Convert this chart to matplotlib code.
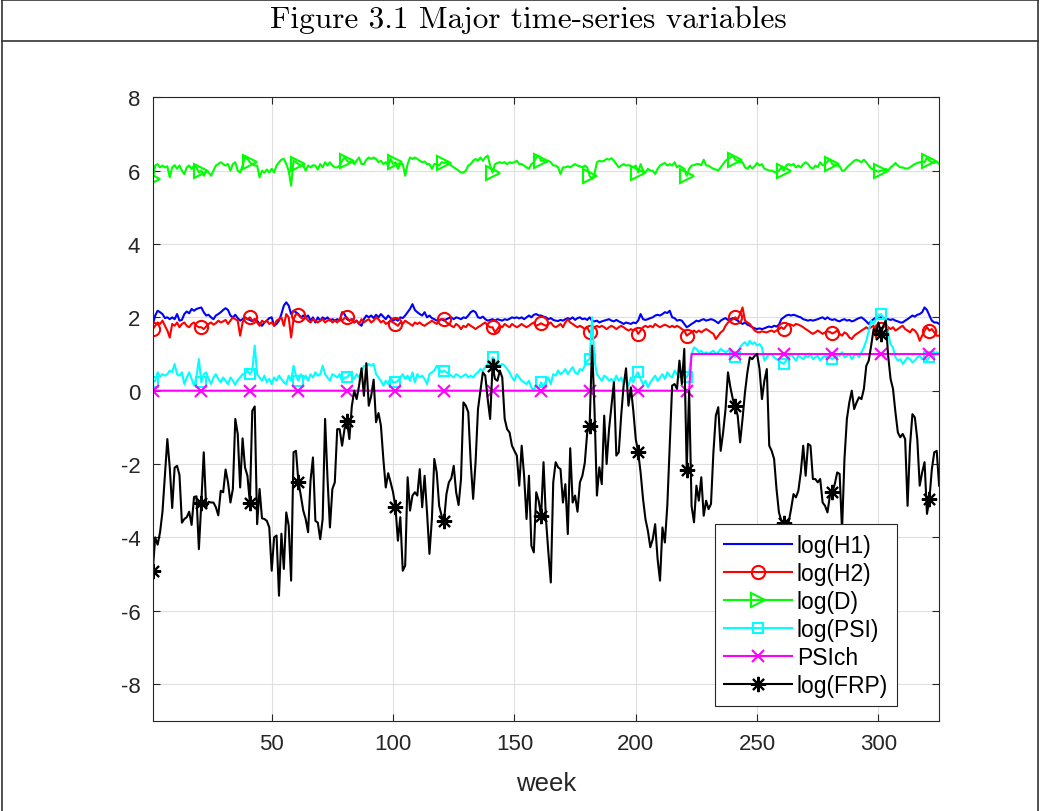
import numpy as np
import matplotlib
matplotlib.use("Agg")
import matplotlib.pyplot as plt
from matplotlib.lines import Line2D

# ===== DATA =====
weeks = np.arange(1, 326)

log_h1 = [
    1.80, 2.05, 2.18, 2.14, 2.09, 1.98, 2.00, 1.95, 2.00, 1.95,
    2.09, 1.91, 1.93, 2.09, 2.16, 2.11, 2.23, 2.18, 2.23, 2.25,
    2.27, 2.14, 2.05, 2.07, 2.00, 1.95, 2.05, 2.09, 2.14, 2.20,
    2.25, 2.20, 2.05, 2.00, 2.07, 1.98, 1.91, 1.95, 2.00, 1.95,
    1.93, 1.89, 1.95, 1.91, 1.82, 1.77, 1.86, 1.91, 1.98, 2.00,
    1.77, 1.82, 1.91, 2.09, 2.32, 2.41, 2.32, 2.09, 2.18, 2.14,
    2.09, 2.00, 2.05, 2.00, 2.05, 1.91, 2.00, 1.86, 2.00, 1.91,
    2.00, 1.95, 2.00, 1.91, 1.95, 1.91, 1.95, 1.91, 2.14, 2.09,
    1.95, 1.91, 1.95, 1.86, 1.91, 1.82, 1.77, 1.95, 2.05, 2.00,
    2.05, 1.98, 2.07, 2.00, 2.09, 2.02, 1.95, 2.05, 1.98, 1.91,
    1.95, 1.91, 2.00, 1.98, 2.05, 2.14, 2.23, 2.36, 2.20, 2.14,
    2.09, 2.05, 2.14, 2.00, 2.05, 1.98, 1.95, 1.91, 1.93, 1.95,
    1.91, 1.95, 1.98, 2.00, 1.95, 2.00, 1.98, 1.95, 2.00, 1.98,
    2.05, 2.14, 2.18, 2.14, 2.00, 1.98, 2.02, 1.95, 1.91, 1.93,
    1.95, 1.91, 1.95, 1.93, 1.91, 1.95, 1.93, 1.96, 2.00, 1.98,
    2.00, 1.97, 2.00, 1.95, 2.00, 2.05, 2.00, 2.07, 2.09, 2.05,
    2.05, 2.02, 2.00, 1.95, 1.98, 1.93, 1.91, 1.90, 1.93, 1.91,
    1.95, 1.98, 1.95, 2.00, 1.93, 1.98, 2.00, 1.95, 1.97, 1.93,
    2.00, 1.91, 1.89, 1.91, 1.86, 1.89, 1.91, 1.93, 1.95, 1.91,
    1.89, 1.93, 1.89, 1.86, 1.82, 1.86, 1.84, 1.82, 1.86, 1.84,
    1.91, 2.09, 1.95, 1.93, 1.95, 1.98, 2.00, 2.05, 2.07, 2.05,
    2.09, 2.14, 2.12, 2.18, 2.00, 1.98, 1.91, 1.93, 1.91, 1.82,
    1.73, 1.77, 1.82, 1.86, 1.91, 1.89, 1.93, 1.95, 1.91, 1.93,
    1.95, 1.93, 1.89, 1.84, 1.91, 1.95, 1.98, 1.93, 1.95, 1.98,
    1.95, 1.91, 1.86, 1.82, 1.86, 1.80, 1.77, 1.73, 1.70, 1.68,
    1.70, 1.68, 1.70, 1.73, 1.75, 1.73, 1.77, 1.75, 1.80, 1.95,
    2.00, 2.05, 2.07, 2.05, 2.07, 2.05, 2.02, 2.00, 1.95, 1.93,
    1.91, 1.93, 1.91, 1.93, 1.95, 1.98, 2.00, 1.95, 2.00, 1.95,
    1.93, 1.95, 1.91, 1.89, 1.93, 1.95, 1.91, 1.93, 1.89, 1.91,
    1.95, 1.98, 2.00, 1.95, 1.89, 1.82, 1.90, 1.95, 2.00, 1.98,
    2.00, 1.98, 1.95, 1.95, 1.93, 1.95, 1.91, 1.89, 1.86, 1.86,
    1.91, 1.95, 2.00, 2.05, 2.02, 2.07, 2.09, 2.14, 2.27, 2.20,
    2.05, 1.91, 1.86, 1.86, 1.82,
]

log_h2 = [
    1.68, 1.77, 1.86, 1.82, 1.91, 1.77, 1.64, 1.45, 1.82, 1.77,
    1.86, 1.73, 1.82, 1.86, 1.77, 1.73, 1.82, 1.86, 1.77, 1.73,
    1.73, 1.68, 1.75, 1.82, 1.86, 1.80, 1.84, 1.91, 1.86, 1.89,
    1.93, 1.82, 1.91, 2.00, 1.95, 1.91, 1.50, 1.86, 2.00, 1.95,
    2.00, 1.91, 1.95, 1.86, 1.77, 1.91, 1.86, 1.91, 1.82, 1.86,
    1.77, 1.91, 1.95, 2.00, 1.77, 2.09, 2.00, 1.45, 1.95, 2.09,
    2.07, 2.00, 1.95, 2.00, 1.91, 1.86, 1.95, 1.91, 1.86, 1.91,
    1.95, 1.86, 1.91, 1.95, 1.86, 1.91, 1.86, 1.95, 1.91, 1.98,
    2.00, 1.91, 1.95, 1.86, 1.91, 1.82, 1.95, 1.86, 1.91, 1.95,
    1.86, 1.91, 2.00, 1.95, 1.86, 1.91, 1.82, 1.86, 1.91, 1.86,
    1.82, 1.77, 1.86, 1.82, 1.91, 1.86, 1.82, 1.77, 1.86, 1.82,
    1.86, 1.80, 1.77, 1.82, 1.86, 1.91, 1.86, 1.82, 1.91, 1.95,
    1.95, 1.86, 1.82, 1.77, 1.73, 1.82, 1.77, 1.68, 1.77, 1.73,
    1.82, 1.77, 1.73, 1.68, 1.73, 1.77, 1.82, 1.86, 1.77, 1.73,
    1.73, 1.59, 1.68, 1.77, 1.73, 1.82, 1.77, 1.73, 1.82, 1.77,
    1.73, 1.77, 1.82, 1.77, 1.73, 1.77, 1.82, 1.86, 1.77, 1.80,
    1.84, 1.80, 1.77, 1.82, 1.86, 1.77, 1.73, 1.77, 1.82, 1.73,
    1.86, 1.95, 1.86, 1.82, 1.77, 1.73, 1.77, 1.73, 1.68, 1.73,
    1.59, 1.64, 1.73, 1.77, 1.73, 1.77, 1.73, 1.68, 1.73, 1.77,
    1.73, 1.68, 1.73, 1.77, 1.73, 1.68, 1.64, 1.68, 1.64, 1.68,
    1.55, 1.64, 1.73, 1.77, 1.73, 1.77, 1.73, 1.82, 1.77, 1.73,
    1.77, 1.80, 1.77, 1.73, 1.77, 1.73, 1.77, 1.73, 1.68, 1.64,
    1.50, 1.55, 1.59, 1.64, 1.59, 1.64, 1.59, 1.64, 1.68, 1.64,
    1.59, 1.55, 1.41, 1.50, 1.59, 1.64, 1.77, 1.86, 1.91, 1.95,
    2.00, 1.95, 2.09, 2.27, 1.91, 1.86, 1.82, 1.73, 1.64, 1.60,
    1.59, 1.62, 1.60, 1.59, 1.62, 1.64, 1.60, 1.64, 1.68, 1.73,
    1.68, 1.77, 1.82, 1.80, 1.77, 1.82, 1.80, 1.77, 1.73, 1.68,
    1.64, 1.59, 1.55, 1.59, 1.64, 1.60, 1.55, 1.59, 1.62, 1.60,
    1.56, 1.59, 1.64, 1.55, 1.50, 1.59, 1.55, 1.45, 1.41, 1.50,
    1.55, 1.59, 1.64, 1.68, 1.73, 1.68, 1.73, 1.77, 1.45, 1.64,
    1.68, 1.73, 1.77, 1.73, 1.68, 1.73, 1.64, 1.68, 1.73, 1.77,
    1.68, 1.64, 1.59, 1.68, 1.64, 1.55, 1.36, 1.50, 1.64, 1.73,
    1.64, 1.68, 1.59, 1.50, 1.50,
]

log_d = [
    5.77, 6.14, 6.18, 6.09, 6.14, 6.09, 6.12, 5.82, 6.09, 6.15,
    6.05, 6.14, 6.00, 5.91, 6.09, 6.14, 6.05, 6.14, 6.09, 5.95,
    6.00, 5.86, 6.00, 5.95, 5.86, 6.00, 6.14, 6.18, 6.23, 6.18,
    6.14, 6.18, 6.00, 6.18, 6.23, 6.00, 5.95, 6.14, 6.36, 6.32,
    6.23, 6.18, 6.14, 6.14, 5.82, 6.00, 5.95, 6.03, 5.95, 6.05,
    5.95, 6.14, 6.23, 6.30, 6.32, 6.18, 6.00, 5.59, 6.27, 6.23,
    6.18, 6.14, 6.14, 6.00, 6.14, 6.09, 6.15, 6.14, 6.03, 6.18,
    6.09, 6.23, 6.14, 6.23, 6.14, 6.09, 6.09, 6.14, 6.27, 6.36,
    6.27, 6.23, 6.27, 6.18, 6.27, 6.36, 6.18, 6.18, 6.30, 6.36,
    6.32, 6.36, 6.32, 6.23, 6.27, 6.18, 6.23, 6.14, 6.32, 6.18,
    6.23, 6.05, 6.18, 6.18, 5.86, 6.18, 6.36, 6.32, 6.36, 6.32,
    6.27, 6.23, 6.25, 6.18, 6.18, 6.05, 6.18, 6.18, 6.14, 6.23,
    6.21, 6.23, 6.18, 6.14, 6.09, 6.05, 6.00, 5.95, 5.95, 6.00,
    6.14, 6.18, 6.27, 6.32, 6.27, 6.36, 6.27, 6.36, 6.41, 6.14,
    5.95, 6.18, 6.21, 6.23, 6.21, 6.23, 6.18, 6.23, 6.21, 6.23,
    6.27, 6.18, 6.18, 6.14, 6.09, 6.05, 6.18, 6.23, 6.36, 6.41,
    6.27, 6.27, 6.23, 6.27, 6.23, 6.14, 6.14, 6.09, 5.91, 6.09,
    6.09, 6.12, 6.09, 6.14, 6.18, 6.14, 6.12, 6.09, 6.14, 6.09,
    5.86, 5.77, 5.91, 6.23, 6.27, 6.25, 6.27, 6.32, 6.30, 6.34,
    6.27, 6.18, 6.09, 6.14, 6.18, 6.14, 6.15, 6.12, 6.09, 6.14,
    5.95, 6.18, 6.00, 5.95, 6.05, 6.00, 6.00, 5.91, 6.05, 6.14,
    6.18, 6.21, 6.14, 6.18, 6.14, 6.23, 6.09, 6.14, 6.09, 6.05,
    5.86, 6.05, 6.14, 6.15, 6.18, 6.18, 6.15, 6.30, 6.14, 6.14,
    6.09, 6.05, 6.03, 6.00, 6.09, 6.18, 6.27, 6.32, 6.36, 6.41,
    6.30, 6.27, 6.23, 6.23, 6.09, 6.05, 6.14, 6.06, 6.12, 6.21,
    6.14, 6.18, 6.05, 6.03, 6.00, 6.00, 5.97, 5.94, 6.00, 6.09,
    6.00, 6.14, 6.18, 6.14, 6.18, 6.09, 6.14, 6.09, 6.18, 6.23,
    6.18, 6.09, 6.05, 6.14, 6.09, 6.23, 6.15, 6.18, 6.25, 6.30,
    6.18, 6.14, 6.15, 6.12, 6.00, 6.00, 6.09, 6.15, 6.21, 6.27,
    6.30, 6.27, 6.23, 6.30, 6.23, 6.14, 6.06, 6.03, 6.00, 5.97,
    6.00, 6.00, 6.05, 6.00, 6.09, 6.14, 6.21, 6.14, 6.09, 6.09,
    6.06, 6.06, 6.09, 6.14, 6.18, 6.21, 6.23, 6.25, 6.23, 6.36,
    6.27, 6.23, 6.21, 6.25, 6.18,
]

log_psi = [
    0.23, 0.27, 0.50, 0.38, 0.45, 0.41, 0.45, 0.55, 0.50, 0.73,
    0.45, 0.41, 0.50, 0.18, 0.36, 0.50, 0.32, 0.14, 0.36, 0.86,
    0.23, 0.45, 0.50, 0.32, 0.18, 0.36, 0.45, 0.32, 0.23, 0.36,
    0.27, 0.18, 0.36, 0.27, 0.16, 0.29, 0.36, 0.45, 0.45, 0.55,
    0.45, 0.55, 1.23, 0.45, 0.36, 0.27, 0.41, 0.23, 0.32, 0.18,
    0.36, 0.27, 0.41, 0.32, 0.23, 0.18, 0.41, 0.27, 0.68, 0.41,
    0.27, 0.45, 0.32, 0.41, 0.27, 0.45, 0.36, 0.50, 0.41, 0.45,
    0.68, 0.45, 0.36, 0.27, 0.45, 0.41, 0.36, 0.45, 0.27, 0.36,
    0.36, 0.45, 0.41, 0.32, 0.45, 0.36, 0.50, 0.68, 0.64, 0.73,
    0.68, 0.73, 0.45, 0.36, 0.27, 0.14, 0.27, 0.18, 0.36, 0.23,
    0.23, 0.27, 0.36, 0.45, 0.32, 0.41, 0.27, 0.50, 0.23, 0.45,
    0.36, 0.41, 0.32, 0.18, 0.45, 0.50, 0.55, 0.68, 0.59, 0.50,
    0.55, 0.50, 0.45, 0.41, 0.36, 0.45, 0.41, 0.36, 0.41, 0.45,
    0.36, 0.41, 0.36, 0.45, 0.50, 0.59, 0.55, 0.64, 0.73, 0.68,
    0.91, 0.82, 0.73, 0.68, 0.73, 0.68, 0.59, 0.50, 0.36, 0.27,
    0.45, 0.36, 0.27, 0.23, 0.18, 0.27, 0.09, 0.00, 0.18, 0.05,
    0.23, 0.09, 0.27, 0.36, 0.18, 0.45, 0.41, 0.55, 0.45, 0.50,
    0.59, 0.45, 0.55, 0.64, 0.50, 0.45, 0.59, 0.55, 0.68, 0.82,
    0.86, 2.00, 0.82, 0.45, 0.36, 0.27, 0.41, 0.36, 0.27, 0.32,
    0.23, 0.41, 0.27, 0.36, 0.18, 0.27, 0.14, 0.36, 0.23, 0.41,
    0.50, 0.32, 0.18, 0.27, 0.09, 0.23, 0.32, 0.41, 0.27, 0.36,
    0.45, 0.32, 0.50, 0.41, 0.36, 0.55, 0.45, 0.36, 0.50, 0.41,
    0.36, 0.50, 1.00, 1.18, 1.14, 1.05, 1.09, 1.00, 1.05, 1.00,
    1.05, 1.09, 1.00, 1.05, 1.14, 1.09, 1.05, 1.09, 1.14, 1.05,
    0.91, 1.05, 1.18, 1.27, 1.32, 1.23, 1.36, 1.27, 1.32, 1.23,
    1.27, 1.18, 0.82, 0.91, 1.00, 1.00, 0.91, 0.86, 0.82, 0.77,
    0.73, 0.82, 0.91, 1.00, 0.91, 0.82, 0.95, 0.91, 0.86, 0.95,
    0.91, 1.00, 0.86, 0.91, 0.95, 0.82, 0.91, 0.95, 0.86, 0.91,
    0.86, 0.91, 1.00, 0.95, 1.05, 0.91, 0.95, 1.00, 0.86, 0.95,
    1.00, 0.91, 1.05, 1.18, 1.36, 1.64, 1.91, 1.82, 1.95, 2.05,
    2.09, 2.00, 1.91, 1.55, 1.27, 1.18, 0.91, 0.82, 0.86, 0.73,
    0.82, 0.91, 0.86, 0.77, 0.82, 0.91, 0.95, 0.86, 0.91, 0.82,
    0.91, 1.00, 0.95, 1.05, 1.00,
]

# PSI change dummy: 0 up to week 222, 1 from week 223 on
psich = [0] * 222 + [1] * 103

log_frp = [
    -4.91, -4.00, -4.20, -3.86, -3.30, -2.30, -1.32, -2.10, -3.20, -2.10,
    -2.05, -2.30, -3.60, -3.50, -3.45, -3.30, -3.66, -2.90, -2.88, -4.32,
    -3.05, -1.68, -3.18, -3.03, -3.05, -3.05, -3.18, -3.40, -2.73, -2.77,
    -2.15, -2.50, -3.05, -2.68, -0.77, -1.18, -2.64, -1.30, -2.09, -2.32,
    -3.05, -0.55, -0.43, -3.64, -2.68, -3.48, -3.50, -3.55, -3.73, -4.91,
    -4.00, -3.95, -5.59, -3.90, -4.86, -3.32, -3.68, -5.18, -1.68, -1.64,
    -2.48, -2.86, -3.27, -3.50, -3.86, -2.45, -1.82, -3.55, -3.60, -4.05,
    -3.50, -0.77, -2.40, -3.73, -2.68, -2.50, -1.05, -1.05, -1.50, -1.05,
    -0.82, -1.32, -0.43, 0.00, -0.23, 0.14, 0.61, -0.14, 0.75, -0.41,
    -0.14, 0.30, -0.86, -0.61, -0.95, -1.86, -2.64, -2.25, -2.50, -2.77,
    -3.18, -4.09, -3.45, -4.91, -4.77, -2.36, -3.27, -2.86, -2.77, -2.86,
    -2.14, -3.18, -2.32, -3.32, -4.45, -3.50, -1.86, -2.23, -3.14, -3.41,
    -3.56, -2.82, -2.50, -2.39, -2.05, -2.77, -3.12, -2.41, -0.32, -0.41,
    -0.59, -1.95, -2.95, -1.95, -0.50, 0.00, 0.50, 0.41, -0.23, -0.77,
    0.68, 0.32, 0.27, 0.55, 0.36, -0.77, -1.05, -1.14, -1.50, -1.64,
    -1.77, -2.59, -1.50, -2.32, -3.50, -2.32, -4.23, -4.41, -2.77, -3.00,
    -3.43, -1.95, -3.50, -4.41, -5.23, -2.50, -1.95, -2.09, -2.14, -3.05,
    -2.55, -3.91, -1.57, -3.05, -2.86, -3.30, -2.50, -2.32, -1.97, -1.14,
    -0.95, 1.23, -0.50, -2.86, -2.09, -2.55, -0.68, -2.00, -1.05, -0.41,
    0.23, -1.77, -1.68, -0.68, 0.14, 0.61, -0.41, 0.09, -0.55, -1.32,
    -1.68, -2.23, -2.95, -3.50, -3.82, -4.27, -4.05, -3.64, -4.59, -5.18,
    -3.73, -4.14, -3.14, -1.50, 0.14, 0.18, 0.05, 0.82, 0.18, 1.14,
    -2.15, 0.00, -3.14, -3.59, -2.59, -3.00, -2.36, -3.41, -3.00, -3.23,
    -3.09, -1.68, -0.68, -0.45, -1.64, -1.14, -0.50, 0.50, 0.09, -0.23,
    -0.43, -0.68, -1.41, -0.77, -0.05, 0.50, 0.91, 0.86, 0.95, 1.00,
    0.59, -0.23, 0.27, 0.59, -1.50, -1.64, -1.86, -2.68, -3.32, -3.55,
    -3.61, -3.73, -3.59, -3.23, -2.82, -2.91, -2.73, -2.23, -1.50, -2.32,
    -1.45, -1.50, -2.41, -2.41, -2.50, -2.41, -3.05, -3.14, -3.32, -2.86,
    -2.77, -2.55, -2.23, -2.27, -3.80, -1.86, -0.77, -0.32, 0.00, -0.50,
    -0.32, -0.18, -0.23, 0.05, 0.68, 0.82, 1.23, 1.68, 1.59, 1.86,
    1.55, 1.77, 1.91, 0.95, 0.32, 0.05, -0.59, -1.14, -1.27, -1.18,
    -1.32, -3.14, -1.50, -0.64, -0.73, -1.32, -2.59, -2.23, -1.95, -3.36,
    -2.95, -2.14, -1.68, -1.64, -2.59,
]

series = [
    (log_h1, "log(H1)", "#0000ff", "None", 9),
    (log_h2, "log(H2)", "#ff0000", "o", 9.5),
    (log_d, "log(D)", "#00ff00", ">", 9.5),
    (log_psi, "log(PSI)", "#00ffff", "s", 7.5),
    (psich, "PSIch", "#ff00ff", "x", 8.5),
    (log_frp, "log(FRP)", "#000000", (8, 2, 0), 11),
]

# ===== STYLE =====
plt.rcParams['font.family'] = ['Liberation Sans', 'DejaVu Sans']
plt.rcParams['axes.unicode_minus'] = False
axis_grey = (0.15, 0.15, 0.15)

fig = plt.figure(figsize=(10.4, 8.12), dpi=100)
ax = fig.add_axes([0.1469, 0.1112, 0.7561, 0.7677])

for values, label, color, marker, msize in series:
    ax.plot(weeks, values, color=color, lw=1.5, label=label,
            marker=marker, markevery=20, markersize=msize,
            markerfacecolor='none', markeredgecolor=color,
            markeredgewidth=1.5)

# ===== AXES (MATLAB look) =====
ax.set_xlim(1, 325)
ax.set_ylim(-9, 8)
ax.set_xticks(np.arange(50, 301, 50))
ax.set_yticks(np.arange(-8, 9, 2))
ax.grid(True, color='#dfdfdf', lw=0.8)
ax.set_axisbelow(True)
ax.tick_params(direction='in', length=5, width=0.8, top=True, right=True,
               labelsize=16, colors=axis_grey, labelcolor=axis_grey, pad=9)
for sp in ax.spines.values():
    sp.set_color(axis_grey)
    sp.set_linewidth(0.8)
ax.set_xlabel("week", fontsize=18.5, color=axis_grey, labelpad=12)

leg = ax.legend(loc='lower right', bbox_to_anchor=(0.9466, 0.0236),
                borderaxespad=0, fontsize=16.5, handlelength=2.95,
                handletextpad=0.22, labelspacing=0.22, borderpad=0.4,
                fancybox=False, framealpha=1, edgecolor=axis_grey)
leg.get_frame().set_linewidth(0.8)

# ===== TITLE ROW AND FRAME =====
fig.text(0.508, 0.9754, "Figure 3.1 Major time-series variables",
         fontfamily='cmr10', fontsize=22.5, ha='center', va='center')
frame_kw = dict(transform=fig.transFigure, color='#333333', lw=1.2)
fig.add_artist(Line2D([0.002, 0.998], [0.9985, 0.9985], **frame_kw))
fig.add_artist(Line2D([0.002, 0.998], [0.9483, 0.9483], **frame_kw))
fig.add_artist(Line2D([0.002, 0.002], [0.0, 0.9985], **frame_kw))
fig.add_artist(Line2D([0.998, 0.998], [0.0, 0.9985], **frame_kw))

fig.savefig("out.png", dpi=100)
plt.close(fig)
